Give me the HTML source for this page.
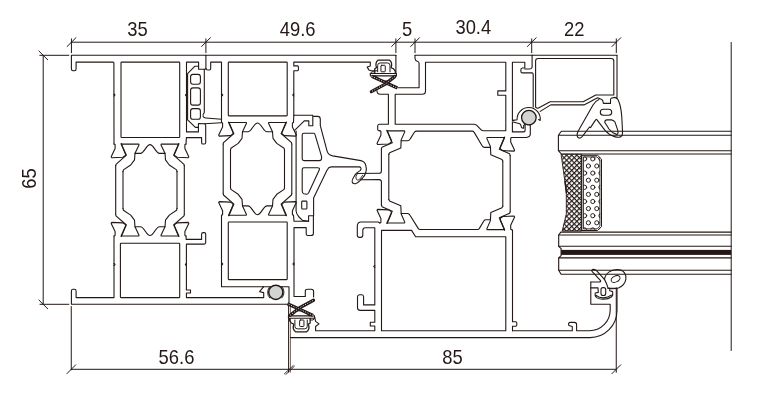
<!DOCTYPE html>
<html><head><meta charset="utf-8"><title>Section</title>
<style>
html,body{margin:0;padding:0;background:#fff;}
body{width:760px;height:409px;overflow:hidden;font-family:"Liberation Sans",sans-serif;}
svg{display:block;will-change:transform}
svg text{font-family:"Liberation Sans",sans-serif;fill:#231815;}
</style></head><body>
<svg width="760" height="409" viewBox="0 0 760 409">
<defs>
<pattern id="hatch" width="3.6" height="3.6" patternUnits="userSpaceOnUse" patternTransform="translate(561.5 154.3) rotate(45)">
<rect width="3.6" height="3.6" fill="#fff"/>
<path d="M0,0H3.6M0,0V3.6" stroke="#231815" stroke-width="2.4" fill="none"/>
</pattern>
<clipPath id="desc"><rect x="583.6" y="156.2" width="16.6" height="73.2" rx="1"/></clipPath>
</defs>
<g fill="none" stroke="#231815" stroke-width="1.1" stroke-linejoin="round" stroke-linecap="round">
<line x1="71.25" y1="42.20" x2="616.25" y2="42.20" stroke-width="1.0"/>
<line x1="67.15" y1="46.50" x2="75.95" y2="37.70" stroke-width="1.0"/>
<line x1="71.45" y1="38.90" x2="71.45" y2="52.70" stroke-width="1.0"/>
<line x1="201.60" y1="46.50" x2="210.40" y2="37.70" stroke-width="1.0"/>
<line x1="205.90" y1="38.90" x2="205.90" y2="52.70" stroke-width="1.0"/>
<line x1="391.60" y1="46.50" x2="400.40" y2="37.70" stroke-width="1.0"/>
<line x1="395.90" y1="38.90" x2="395.90" y2="52.70" stroke-width="1.0"/>
<line x1="410.70" y1="46.50" x2="419.50" y2="37.70" stroke-width="1.0"/>
<line x1="415.00" y1="38.90" x2="415.00" y2="52.70" stroke-width="1.0"/>
<line x1="527.40" y1="46.50" x2="536.20" y2="37.70" stroke-width="1.0"/>
<line x1="531.70" y1="38.90" x2="531.70" y2="52.70" stroke-width="1.0"/>
<line x1="612.00" y1="46.50" x2="620.80" y2="37.70" stroke-width="1.0"/>
<line x1="616.30" y1="38.90" x2="616.30" y2="52.70" stroke-width="1.0"/>
<line x1="43.20" y1="55.30" x2="43.20" y2="304.30" stroke-width="1.0"/>
<line x1="39.80" y1="55.30" x2="68.80" y2="55.30" stroke-width="1.0"/>
<line x1="40.00" y1="304.30" x2="68.80" y2="304.30" stroke-width="1.0"/>
<line x1="38.90" y1="51.00" x2="47.70" y2="59.80" stroke-width="1.0"/>
<line x1="38.90" y1="300.00" x2="47.70" y2="308.80" stroke-width="1.0"/>
<line x1="71.25" y1="369.30" x2="616.25" y2="369.30" stroke-width="1.0"/>
<line x1="71.25" y1="306.50" x2="71.25" y2="369.80" stroke-width="1.0"/>
<line x1="616.25" y1="288.00" x2="616.25" y2="372.30" stroke-width="1.0"/>
<line x1="288.60" y1="305.00" x2="288.60" y2="372.20" stroke-width="1.0"/>
<line x1="290.40" y1="305.00" x2="290.40" y2="372.20" stroke-width="0.9" stroke="#5a504d"/>
<line x1="66.95" y1="373.60" x2="75.75" y2="364.80" stroke-width="1.0"/>
<line x1="611.95" y1="373.60" x2="620.75" y2="364.80" stroke-width="1.0"/>
<line x1="284.40" y1="373.80" x2="293.20" y2="365.60" stroke-width="0.9"/>
<line x1="285.90" y1="374.40" x2="294.40" y2="366.20" stroke-width="0.9"/>
<text transform="translate(137.55 35.5) scale(0.92 1)" x="0" y="0" font-size="20" text-anchor="middle" stroke="none">35</text>
<text transform="translate(297.65 35.5) scale(0.92 1)" x="0" y="0" font-size="20" text-anchor="middle" stroke="none">49.6</text>
<text transform="translate(407.0 35.5) scale(0.92 1)" x="0" y="0" font-size="20" text-anchor="middle" stroke="none">5</text>
<text transform="translate(473.3 34.0) scale(0.92 1)" x="0" y="0" font-size="20" text-anchor="middle" stroke="none">30.4</text>
<text transform="translate(574.3 35.5) scale(0.92 1)" x="0" y="0" font-size="20" text-anchor="middle" stroke="none">22</text>
<text transform="translate(176.5 363.9) scale(0.92 1)" x="0" y="0" font-size="20" text-anchor="middle" stroke="none">56.6</text>
<text transform="translate(452.5 363.9) scale(0.92 1)" x="0" y="0" font-size="20" text-anchor="middle" stroke="none">85</text>
<text transform="translate(35.9 178.6) rotate(-90) scale(0.92 1)" x="0" y="0" font-size="20" text-anchor="middle" stroke="none">65</text>
<line x1="731.20" y1="42.50" x2="731.20" y2="350.50" stroke-width="1.0"/>
<path d="M205.9,55.3 L71.4,55.3 L71.4,69 Q71.4,70.7 73,70.7 L74.5,70.7 Q76.1,70.7 76.1,69 L76.1,62.1 L112.9,62.1 Q113.9,62.1 113.9,63.1 L114.0,144.1" />
<rect x="121.00" y="62.10" width="58.70" height="75.40" rx="0.6" />
<path d="M186.0,144.1 L186.4,137.6 L201.6,137.6 L201.6,142.6 Q201.7,144 203,144 L204.4,144 Q205.7,144 205.7,142.6 L205.7,125.4 Q205.6,123.9 204.4,123.7 L198.4,123.5 L198.4,131.9 L186.5,131.9 L186.5,62.1 L198.6,62.1 L198.6,69.3 L204.8,69.3 Q205.9,69.3 205.9,68.3 L205.9,55.3" />
<path d="M113.9,94 l1,1 l-1,1 M186.5,94 l-1,1 l1,1" />
<path d="M187.6,73.7 L194.9,66.2 L198.6,66.2 M204.3,69.3 L204.3,112.6 Q202.3,114.4 203.1,116.6 Q203.8,117.9 205.7,118.0 L221.5,119.3 M204.4,123.7 L221.3,122.7 M187.6,73.7 L187.6,119.9 L195.4,127.4 L198.4,127.4" />
<rect x="190.60" y="74.40" width="9.80" height="9.80" rx="2.4" />
<rect x="190.60" y="87.90" width="9.80" height="17.20" rx="2.4" />
<rect x="190.60" y="108.60" width="9.80" height="10.70" rx="2.4" />
<path d="M114.00,144.10 L115.10,144.60 L115.10,148.60 L111.20,156.70 L111.80,157.70 L122.80,157.20 L125.20,155.70 L125.80,154.00 L122.40,146.10 L121.20,143.60" />
<path d="M121.30,144.10 L138.80,144.10 L139.00,144.90 L135.00,153.30 L134.50,159.90 L130.70,165.00 L123.40,169.90 L123.00,171.60" />
<path d="M121.20,144.10 L122.00,146.10 L125.20,153.50 L126.40,155.10 L116.00,164.30 L115.70,165.60" />
<path d="M186.00,144.10 L184.90,144.60 L184.90,148.60 L188.80,156.70 L188.20,157.70 L177.20,157.20 L174.80,155.70 L174.20,154.00 L177.60,146.10 L178.80,143.60" />
<path d="M178.70,144.10 L161.20,144.10 L161.00,144.90 L165.00,153.30 L165.50,159.90 L169.30,165.00 L176.60,169.90 L177.00,171.60" />
<path d="M178.80,144.10 L178.00,146.10 L174.80,153.50 L173.60,155.10 L184.00,164.30 L184.30,165.60" />
<path d="M135.00,153.40 L140.40,153.40 C144.40,153.40 146.20,144.60 150.00,144.60 C153.80,144.60 155.60,153.40 159.60,153.40 L165.00,153.40" />
<path d="M114.00,236.00 L115.10,235.50 L115.10,231.50 L111.20,223.40 L111.80,222.40 L122.80,222.90 L125.20,224.40 L125.80,226.10 L122.40,234.00 L121.20,236.50" />
<path d="M121.30,236.00 L138.80,236.00 L139.00,235.20 L135.00,226.80 L134.50,220.20 L130.70,215.10 L123.40,210.20 L123.00,208.50" />
<path d="M121.20,236.00 L122.00,234.00 L125.20,226.60 L126.40,225.00 L116.00,215.80 L115.70,214.50" />
<path d="M186.00,236.00 L184.90,235.50 L184.90,231.50 L188.80,223.40 L188.20,222.40 L177.20,222.90 L174.80,224.40 L174.20,226.10 L177.60,234.00 L178.80,236.50" />
<path d="M178.70,236.00 L161.20,236.00 L161.00,235.20 L165.00,226.80 L165.50,220.20 L169.30,215.10 L176.60,210.20 L177.00,208.50" />
<path d="M178.80,236.00 L178.00,234.00 L174.80,226.60 L173.60,225.00 L184.00,215.80 L184.30,214.50" />
<path d="M135.00,226.70 L140.40,226.70 C144.40,226.70 146.20,235.50 150.00,235.50 C153.80,235.50 155.60,226.70 159.60,226.70 L165.00,226.70" />
<line x1="115.70" y1="165.60" x2="115.70" y2="214.50" />
<line x1="123.00" y1="171.60" x2="123.00" y2="208.50" />
<line x1="184.30" y1="165.60" x2="184.30" y2="214.50" />
<line x1="177.00" y1="171.60" x2="177.00" y2="208.50" />
<path d="M289.1,304.3 L71.4,304.3 L71.4,291 Q71.4,289.3 73,289.3 L74.5,289.3 Q76.1,289.3 76.1,291 L76.1,297.6 L114.0,297.6 L114.0,236.0" />
<rect x="120.40" y="243.25" width="59.30" height="54.35" rx="0.6" />
<path d="M186.0,236.0 L186.2,239.4 L201.6,239.4 L201.6,234.2 Q201.6,232.6 203.2,232.6 L204.1,232.6 Q205.7,232.6 205.7,234.2 L205.7,242.5 Q205.7,244.1 204.1,244.1 L186.4,244.1 L186.4,290 L190.5,290 L190.5,293 L186.4,293 L186.4,297.6 L263.7,297.6 L263.7,292.6 L259.6,291.7 L263.5,286.8" />
<path d="M114.0,263.5 l1,1 l-1,1 M186.4,263.5 l-1,1 l1,1" />
<path d="M263.2,286.8 L289.0,286.8 L289.0,304.3" />
<circle cx="275.8" cy="292.3" r="7.1" fill="#d2d4d3" stroke-width="1.5"/>
<path d="M269.9,286.4 A8.4,8.4 0 0 0 269.6,297.9 M281.7,286.4 A8.4,8.4 0 0 1 282.0,297.9" stroke-width="0.9"/>
<path d="M205.9,68.3 Q206,70 208,70 L209.3,70 Q210.7,70 210.7,68.6 L210.7,62.1 L221.5,62.1 L221.5,122.5" />
<line x1="205.90" y1="55.30" x2="395.90" y2="55.30" />
<rect x="228.30" y="62.10" width="58.90" height="53.80" rx="0.6" />
<path d="M221.7,94 l1,1 l-1,1 M293.8,94 l-1,1 l1,1" />
<path d="M293.5,122.5 L293.8,115.3 L312.8,115.3 L312.8,125.7 L308.8,125.7 L308.8,120.9 L304.3,120.9 L294.6,130.4" />
<path d="M293.8,115.3 L293.8,70.7 L297.6,70.7 Q298.4,70.6 298.4,69.8 L298.4,66.8 Q298.4,66.0 297.6,65.9 L293.8,65.9 L293.8,62.1 L370.3,62.1 L370.3,65.9 L367.2,67.1 L369.0,70.1 L371.0,70.8 L376.8,70.8" />
<path d="M395.9,55.3 L395.9,73" />
<path d="M221.50,122.50 L222.60,123.00 L222.60,127.00 L218.70,135.10 L219.30,136.10 L230.30,135.60 L232.70,134.10 L233.30,132.40 L229.90,124.50 L228.70,122.00" />
<path d="M228.80,122.50 L246.30,122.50 L246.50,123.30 L242.50,131.70 L242.00,138.30 L238.20,143.40 L230.90,148.30 L230.50,150.00" />
<path d="M228.70,122.50 L229.50,124.50 L232.70,131.90 L233.90,133.50 L223.50,142.70 L223.20,144.00" />
<path d="M293.50,122.50 L292.40,123.00 L292.40,127.00 L296.30,135.10 L295.70,136.10 L284.70,135.60 L282.30,134.10 L281.70,132.40 L285.10,124.50 L286.30,122.00" />
<path d="M286.20,122.50 L268.70,122.50 L268.50,123.30 L272.50,131.70 L273.00,138.30 L276.80,143.40 L284.10,148.30 L284.50,150.00" />
<path d="M286.30,122.50 L285.50,124.50 L282.30,131.90 L281.10,133.50 L291.50,142.70 L291.80,144.00" />
<path d="M242.50,131.80 L247.90,131.80 C251.90,131.80 253.70,123.00 257.50,123.00 C261.30,123.00 263.10,131.80 267.10,131.80 L272.50,131.80" />
<path d="M221.50,215.20 L222.60,214.70 L222.60,210.70 L218.70,202.60 L219.30,201.60 L230.30,202.10 L232.70,203.60 L233.30,205.30 L229.90,213.20 L228.70,215.70" />
<path d="M228.80,215.20 L246.30,215.20 L246.50,214.40 L242.50,206.00 L242.00,199.40 L238.20,194.30 L230.90,189.40 L230.50,187.70" />
<path d="M228.70,215.20 L229.50,213.20 L232.70,205.80 L233.90,204.20 L223.50,195.00 L223.20,193.70" />
<path d="M293.50,215.20 L292.40,214.70 L292.40,210.70 L296.30,202.60 L295.70,201.60 L284.70,202.10 L282.30,203.60 L281.70,205.30 L285.10,213.20 L286.30,215.70" />
<path d="M286.20,215.20 L268.70,215.20 L268.50,214.40 L272.50,206.00 L273.00,199.40 L276.80,194.30 L284.10,189.40 L284.50,187.70" />
<path d="M286.30,215.20 L285.50,213.20 L282.30,205.80 L281.10,204.20 L291.50,195.00 L291.80,193.70" />
<path d="M242.50,205.90 L247.90,205.90 C251.90,205.90 253.70,214.70 257.50,214.70 C261.30,214.70 263.10,205.90 267.10,205.90 L272.50,205.90" />
<line x1="223.20" y1="144.00" x2="223.20" y2="193.70" />
<line x1="230.50" y1="150.00" x2="230.50" y2="187.70" />
<line x1="291.80" y1="144.00" x2="291.80" y2="193.70" />
<line x1="284.50" y1="150.00" x2="284.50" y2="187.70" />
<path d="M221.5,215.2 L221.5,286.8 L263.2,286.8" />
<rect x="228.30" y="222.00" width="58.90" height="57.60" rx="0.6" />
<path d="M221.7,263 l1,1 l-1,1 M294,263 l-1,1 l1,1" />
<path d="M293.5,215.2 L294,221.2 L308.6,221.2 L308.6,215.7 L313.4,215.7 L313.4,233.2 Q313.4,235.5 311,235.5 L307.8,235.5 Q306.2,235.5 306.2,234 L306.2,227.6 L294,227.6 L294,296.5 L305.3,296.5 L305.3,291 Q305.3,289.2 307.9,289.2 L311.3,289.2 Q313.6,289.2 313.6,291.4 L313.6,297" />
<path d="M313.6,116.4 L317.6,116.4 Q320.3,116.4 320.3,119.3 L320.3,125.7 L327.1,151.1 Q328.4,155 332.7,155.9 L360.9,160.6 Q364.6,161.4 365.7,165 Q366.9,169 365.9,172 Q365,175.4 362.6,178 L359.8,180.8 Q357.6,183.2 355.4,183.7 Q352.6,184.2 352.1,181.6 Q352,179.6 353.8,177 Q355,174.6 356.5,173.1 Q358.8,171.4 360.4,170.4 Q361.6,168.6 360.7,167.6 Q360.2,166.9 359.3,166.9 L331.1,166.9 Q328.4,167.2 327.1,170.1 L313.6,197.9 L313.6,215.7" />
<path d="M296.1,131 L296.1,211 Q296.5,214.5 299,217 L302.5,220.4 L308.6,221.2" />
<path d="M302.2,135.2 Q302.2,133.3 303.8,133.3 L313.6,133.3 Q314.8,133.3 315.2,135.2 L321.6,156.7 Q322,160.6 319.2,160.6 L304.1,160.6 Q302.2,160.6 302.2,159 Z" />
<path d="M302.2,170.1 Q302.2,167.7 303.8,167.7 L317.6,167.7 Q320.2,167.7 319.2,170.1 L308.8,192.4 Q307.8,194.2 306.5,194.2 L303.8,193.8 Q302.2,193.4 302.2,190.8 Z" />
<rect x="301.70" y="201.10" width="5.20" height="7.90" rx="0.8" />
<path d="M356.9,174.2 Q355.2,177 356.2,179 Q357.2,180.9 358.8,179.9 Q360.8,178.2 362.6,175.4" stroke-width="0.9"/>
<path d="M370.35,73.50 L396.45,73.50 L396.45,75.90 L370.35,75.90 Z" fill="#fff" stroke-width="1.1"/>
<path d="M374.75,73.50 L374.75,68.80 L376.45,67.70 Q374.80,62.50 378.25,60.00 L389.35,60.00 Q392.80,62.50 391.15,67.70 L393.55,68.80 L395.25,71.20 L395.25,73.50" stroke-width="1.25"/>
<path d="M370.35,73.50 L371.80,71.80 L374.75,71.80" stroke-width="1.0"/>
<path d="M377.65,71.80 L377.65,65.50 Q377.65,62.95 380.20,62.95 L387.50,62.95 Q390.00,62.95 390.00,65.50 L390.00,71.80" stroke-width="1.0"/>
<rect x="380.95" y="65.30" width="4.30" height="6.50" rx="0.7" stroke-width="1.0"/>
<path d="M375.30,75.90 Q380.40,80.30 383.50,81.20 Q388.40,81.10 391.70,79.40 L395.25,75.90" stroke-width="0.9"/>
<path d="M371.75,76.30 L397.40,88.10" stroke-width="3.3" stroke-linecap="butt"/>
<path d="M371.75,76.30 L397.40,88.10" stroke-width="1.0" stroke="#fff" stroke-dasharray="0.9 1.7" stroke-linecap="butt"/>
<path d="M394.65,76.60 L385.25,84.10 L371.40,91.60" stroke-width="3.3" stroke-linecap="round"/>
<path d="M394.65,76.60 L385.25,84.10 L371.40,91.60" stroke-width="1.0" stroke="#fff" stroke-dasharray="0.9 1.7" stroke-linecap="butt"/>
<path d="M314.55,318.30 L288.45,318.30 L288.45,315.90 L314.55,315.90 Z" fill="#fff" stroke-width="1.1"/>
<path d="M310.15,318.30 L310.15,323.00 L308.45,324.10 Q310.10,329.30 306.65,331.80 L295.55,331.80 Q292.10,329.30 293.75,324.10 L291.35,323.00 L289.65,320.60 L289.65,318.30" stroke-width="1.25"/>
<path d="M314.55,318.30 L313.10,320.00 L310.15,320.00" stroke-width="1.0"/>
<path d="M307.25,320.00 L307.25,326.30 Q307.25,328.85 304.70,328.85 L297.40,328.85 Q294.90,328.85 294.90,326.30 L294.90,320.00" stroke-width="1.0"/>
<rect x="299.65" y="320.00" width="4.30" height="6.50" rx="0.7" stroke-width="1.0"/>
<path d="M309.60,315.90 Q304.50,311.50 301.40,310.60 Q296.50,310.70 293.20,312.40 L289.65,315.90" stroke-width="0.9"/>
<path d="M313.15,315.50 L287.50,303.70" stroke-width="3.3" stroke-linecap="butt"/>
<path d="M313.15,315.50 L287.50,303.70" stroke-width="1.0" stroke="#fff" stroke-dasharray="0.9 1.7" stroke-linecap="butt"/>
<path d="M290.25,315.20 L299.65,307.70 L313.50,300.20" stroke-width="3.3" stroke-linecap="round"/>
<path d="M290.25,315.20 L299.65,307.70 L313.50,300.20" stroke-width="1.0" stroke="#fff" stroke-dasharray="0.9 1.7" stroke-linecap="butt"/>
<path d="M415,55.2 L415,58.6 Q415.4,60.8 417.3,61.2 Q419.1,61.6 419.1,63.5 L419.1,87.7 L398,87.7" />
<line x1="415.00" y1="55.20" x2="532.10" y2="55.20" />
<path d="M376.9,90.6 Q377.0,94.3 380.3,94.3 L388.4,94.3 L388.4,124.2 L379.2,124.2 Q377.7,124.4 377.7,125.9 L377.7,129.4 Q377.8,130.7 379.2,130.8 L380.0,130.85" />
<path d="M395.2,94.3 L422.3,94.3 Q425.5,94.3 425.5,91.0 L425.5,62.2 L505.8,62.2 L505.8,90.9 L497.8,90.9 L497.8,95.3 L505.8,95.3 L505.8,130.7 L483.2,130.7 Q481.6,130.6 480.4,129.2 L476.8,125.4 Q475.6,124.3 473.8,124.3 L395.2,124.3 Z" />
<path d="M513.2,120.4 L512.4,120.4 L512.4,62.2 L524.8,62.2 L524.8,68 L522.4,68 Q520.9,68.3 520.9,69.4 L520.9,71.5 Q520.9,72.9 522.4,72.9 L532.1,72.9 Q533.2,73.2 533.2,74.5 L533.2,107.0" />
<path d="M532.1,55.3 L532.1,67.3 Q531.8,69 529.2,69 L524.8,69" />
<path d="M513.2,120.4 L517.1,119.8 A11.6,11.6 0 1 1 540.2,120.4 L538.6,119.6" />
<path d="M512.4,122.0 L513.2,122.0 L519.8,123.7 Q521.0,124.4 521.5,127.5 Q522.4,128.3 523.7,128.1 L523.7,125.3 Q524.6,124.2 525.9,123.7" />
<path d="M512.4,122.0 L512.4,131.9 L523.7,131.9 Q525.1,131.8 525.1,130.5 L525.1,125 M527.5,124.6 Q529.6,124.4 530.3,125.6 L530.3,134.1 Q530.2,137.3 526.4,137.45 L511.8,137.55" />
<circle cx="528.85" cy="117.6" r="7.3" fill="#d2d4d3" stroke-width="1.3"/>
<path d="M617,55.2 L617,98.4 L615.2,97.4 L611.7,98 Q610.5,98.6 610.5,99.6 L610.5,103.4 L603.4,103.4 L602.6,100.2 L600.6,98.9 L597.6,97.7 L584.0,104.9 L550.8,104.9 L540.2,111.4" />
<line x1="532.10" y1="55.20" x2="617.00" y2="55.20" />
<path d="M538.1,58.5 L611.2,58.5 Q613.8,58.5 613.8,61 L613.8,95 L595.8,95 L583.2,101.8 L550.1,101.8 L538.0,108.3 Q536.4,108.2 535.6,107.2 L535.6,61 Q535.6,58.5 538.1,58.5 Z" />
<path d="M598.9,99.4 Q596,100.5 593,105 L578.5,130.5 Q576,135.5 578,137.5 Q580.5,139.2 582.8,135.8 L589.5,127 L590.5,127.6 L595.6,119.9 Q596.3,119 597,119.8 L605,130.4 Q609,135 614.4,136.6 Q619,138 621,136.5 Q622.8,135.5 622.5,131 L621.8,117 Q621,107 619,102 Q618,98.6 616.4,98.3" />
<rect x="600.30" y="109.20" width="11.40" height="6.00" rx="3.0" />
<path d="M604.7,122.3 Q604.9,119.9 607,119.9 L611.5,119.9 Q614,120.3 615.1,122.3 L617.8,130.4 Q618.6,134.6 616.5,134.4 Q612,133 609,129 Z" />
<path d="M379.80,130.85 L380.90,131.35 L380.90,135.35 L377.00,143.45 L377.60,144.45 L388.60,143.95 L391.00,142.45 L391.60,140.75 L388.20,132.85 L387.00,130.35" />
<path d="M387.10,130.85 L404.60,130.85 L404.80,131.65 L401.20,139.85 L400.80,148.05 L389.60,152.85 L388.80,154.35" />
<path d="M387.00,130.85 L387.80,132.85 L391.00,140.25 L392.30,142.65 L382.00,147.15 L381.40,148.85" />
<path d="M379.80,222.95 L380.90,222.45 L380.90,218.45 L377.00,210.35 L377.60,209.35 L388.60,209.85 L391.00,211.35 L391.60,213.05 L388.20,220.95 L387.00,223.45" />
<path d="M387.10,222.95 L404.60,222.95 L404.80,222.15 L401.20,213.95 L400.80,205.75 L389.60,200.95 L388.80,199.45" />
<path d="M387.00,222.95 L387.80,220.95 L391.00,213.55 L392.30,211.15 L382.00,206.65 L381.40,204.95" />
<path d="M511.80,137.55 L510.70,138.05 L510.70,142.05 L514.60,150.15 L514.00,151.15 L503.00,150.65 L500.60,149.15 L500.00,147.45 L503.40,139.55 L504.60,137.05" />
<path d="M504.50,137.55 L487.00,137.55 L486.80,138.35 L490.40,146.55 L490.80,154.75 L502.00,159.55 L502.80,161.05" />
<path d="M504.60,137.55 L503.80,139.55 L500.60,146.95 L499.30,149.35 L509.60,153.85 L510.20,155.55" />
<path d="M511.80,229.65 L510.70,229.15 L510.70,225.15 L514.60,217.05 L514.00,216.05 L503.00,216.55 L500.60,218.05 L500.00,219.75 L503.40,227.65 L504.60,230.15" />
<path d="M504.50,229.65 L487.00,229.65 L486.80,228.85 L490.40,220.65 L490.80,212.45 L502.00,207.65 L502.80,206.15" />
<path d="M504.60,229.65 L503.80,227.65 L500.60,220.25 L499.30,217.85 L509.60,213.35 L510.20,211.65" />
<line x1="388.80" y1="154.35" x2="388.80" y2="199.45" />
<line x1="510.20" y1="155.55" x2="510.20" y2="211.65" />
<line x1="502.80" y1="161.05" x2="502.80" y2="206.15" />
<path d="M401.2,140.7 L407.7,140.7 Q409.6,140.45 410.4,138.6 L414.4,132.3 Q415.2,131.1 416.9,131.1 L472.6,131.1 Q473.6,131.3 474.2,132.4 L482.1,145.7 Q483,147.4 484.6,147.4 L490.40000000000003,147.4" />
<path d="M401.2,213.5 L407.5,213.5 Q409.2,213.64999999999998 410.0,215.3 L418.2,228.4 Q418.9,229.5 420.2,229.5 L477.6,229.5 Q478.8,229.5 479.4,228.4 L483.8,221.0 Q484.5,219.8 486.0,219.8 L490.40000000000003,219.8" />
<path d="M381.4,148.85 L381.4,170.9 Q381.4,173.3 379.0,173.3 L357.3,173.5 M360.6,179.7 L379.0,179.6 Q381.4,179.6 381.4,182 L381.4,204.95" />
<path d="M379.8,222.95 L378.2,222.0 L361.0,222.0 Q357.3,222.2 357.3,226 L357.3,235.2 Q357.4,237.4 359.6,237.4 L360.6,237.4 Q362.8,237.3 362.8,235 L362.8,230.4 Q362.9,227.8 365.4,227.8 L374.8,227.8 L374.8,304.9 L363.6,304.9 L363.6,296.7 Q363.4,294.8 361.6,294.8 L359.5,294.8 Q357.5,295.0 357.5,297.0 L357.5,307.9 Q357.7,310.4 360.2,310.4 L374.8,310.4 L374.8,322.3 L370.3,322.3 L370.3,326.0 L374.8,326.0 L374.8,330.8 L315.6,330.8 L315.6,326.5 L319,323.9 L315.6,321.4 L314.8,317.6" />
<path d="M374.8,265.5 l-1,1 l1,1" />
<path d="M381.5,230.4 L411.6,230.4 L415.6,236.8 L505.8,236.8 L505.8,330.8 L381.5,330.8 Z" />
<path d="M290.4,337.6 L590,337.6 A27,27 0 0 0 617,310.6 L617,288" />
<path d="M512.5,330.8 L572.3,330.8 L572.3,326.6 L568.8,325.4 Q567.8,322.6 570.4,322.4 L574.3,322.4 Q576.6,322.4 576.6,324.6 L576.6,330.8 L589.4,330.8 A20.8,20.8 0 0 0 610.2,310.0 L610.2,304.3 L590.8,304.3 L590.8,282" />
<path d="M511.8,229.65 L512.5,230.25 L512.5,321.7 L515.6,321.7 Q516.8,321.8 516.8,323 L516.8,325.0 Q516.8,326.2 515.6,326.3 L512.5,326.3 L512.5,330.8" />
<path d="M592.0,271.4 Q591.4,269.7 593.4,269.4 Q595.2,269.3 597,271.2 L604.6,279.6 Q606.8,283.4 608.1,288.2 M592.0,271.4 L600.6,280.6 Q601,281.7 599.2,282 L590.8,282" />
<path d="M604.4,279.6 Q605,274.6 609.6,271.6 Q615.4,268.4 621,270.0 Q626.6,272.6 625.9,279.2 Q624.8,285.6 618.4,288.0 Q613,289.4 609.3,288.2 L608.1,288.2" />
<ellipse cx="615.6" cy="279.0" rx="4.7" ry="3.0" transform="rotate(-27 615.6 279.0)" stroke-width="1.0"/>
<path d="M590.8,287.9 L598.0,287.9 L598.3,292.4 L595.2,293 Q594.4,295.6 596.6,297.6 Q599.6,299.4 603.4,299.3 Q608.6,299.2 611.6,296.8 Q613.4,294.6 612.6,291.6 L609.8,290.8 L609.6,288.2 M596.2,295.4 Q599,298.0 603.4,297.9 Q608.4,297.6 611.2,295.2 M608.1,288.2 L616.4,288.2" />
<rect x="601.00" y="287.60" width="4.70" height="7.90" rx="2.0" />
<path d="M731.2,131.3 L561.3,131.3 L558.4,135.3 L558.4,150.7 L561.3,154.0 L731.2,154.0 M558.4,135.3 L731.2,135.3 M558.4,150.7 L731.2,150.7" fill="none"/>
<path d="M561.5,154.3 L581.6,154.3 L581.6,231.0 L562.2,231.0 L566.3,214 L566.3,192 Z" fill="url(#hatch)" stroke-width="0.9"/>
<path d="M564.9,181.5 L566.0,186 L566.3,193 Z" fill="#231815" stroke-width="1.2"/>
<path d="M582.2,155.3 L597.6,155.3 L601.5,159.2 L601.5,226.6 L597.6,230.5 L582.2,230.5 Z" fill="#fff" stroke-width="1.0"/>
<path d="M583.8,156.9 L597.0,156.9 L599.9,159.8 L599.9,226.0 L597.0,228.9 L583.8,228.9 Z" stroke-width="0.9"/>
<g clip-path="url(#desc)" stroke-width="0.95"><circle cx="584.6" cy="158.9" r="2.1"/><circle cx="592.8" cy="158.9" r="2.1"/><circle cx="601.0" cy="158.9" r="2.1"/><circle cx="588.4" cy="166.0" r="2.1"/><circle cx="596.8" cy="166.0" r="2.1"/><circle cx="584.6" cy="173.1" r="2.1"/><circle cx="592.8" cy="173.1" r="2.1"/><circle cx="601.0" cy="173.1" r="2.1"/><circle cx="588.4" cy="180.2" r="2.1"/><circle cx="596.8" cy="180.2" r="2.1"/><circle cx="584.6" cy="187.3" r="2.1"/><circle cx="592.8" cy="187.3" r="2.1"/><circle cx="601.0" cy="187.3" r="2.1"/><circle cx="588.4" cy="194.4" r="2.1"/><circle cx="596.8" cy="194.4" r="2.1"/><circle cx="584.6" cy="201.5" r="2.1"/><circle cx="592.8" cy="201.5" r="2.1"/><circle cx="601.0" cy="201.5" r="2.1"/><circle cx="588.4" cy="208.6" r="2.1"/><circle cx="596.8" cy="208.6" r="2.1"/><circle cx="584.6" cy="215.7" r="2.1"/><circle cx="592.8" cy="215.7" r="2.1"/><circle cx="601.0" cy="215.7" r="2.1"/><circle cx="588.4" cy="222.8" r="2.1"/><circle cx="596.8" cy="222.8" r="2.1"/><circle cx="584.6" cy="229.9" r="2.1"/><circle cx="592.8" cy="229.9" r="2.1"/><circle cx="601.0" cy="229.9" r="2.1"/></g>
<path d="M731.2,232.1 L560.8,232.1 L558.6999999999999,235.0 L558.6999999999999,246.3 L561.1,248.6 L561.1,255.6 L558.6999999999999,257.9 L558.6999999999999,270.2 L561.1,274.3 L731.2,274.3" />
<path d="M558.6999999999999,235.0 L731.2,235.0 M558.6999999999999,246.3 L731.2,246.3 M558.6999999999999,257.9 L731.2,257.9 M558.6999999999999,270.2 L731.2,270.2" />
<rect x="561.10" y="249.90" width="170.10" height="5.00" rx="0" fill="#231815" stroke="none"/>
</g>
</svg>
</body></html>
